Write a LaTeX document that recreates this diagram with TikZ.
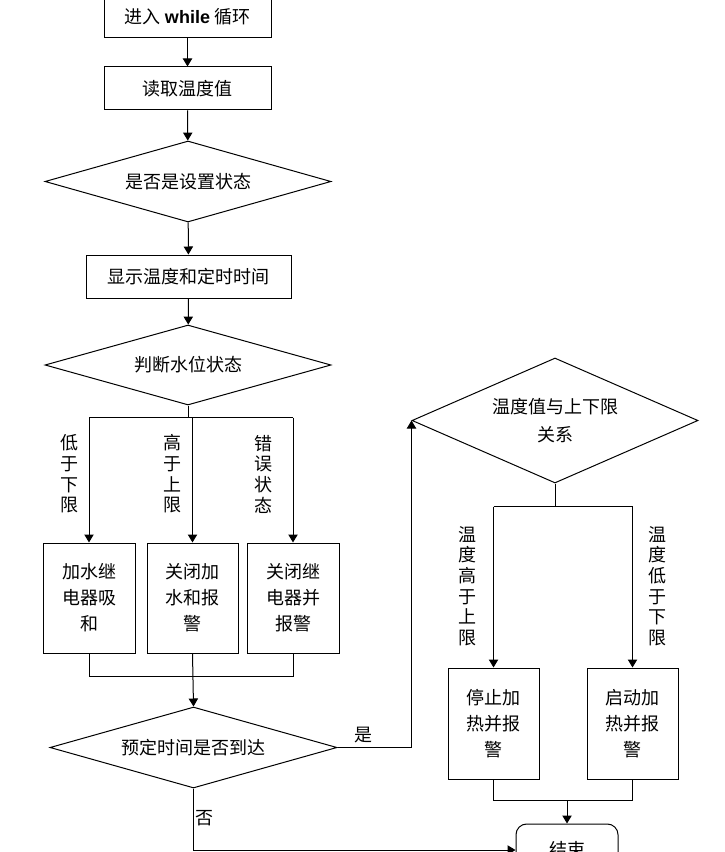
\documentclass[tikz,border=0pt]{standalone}
\usepackage{fontspec}
\setmainfont{Noto Sans CJK SC}
\newfontfamily\latinfont{Liberation Sans}
\usetikzlibrary{shapes.geometric,arrows.meta,calc}
\def\px{0.75pt}

\begin{document}
\begin{tikzpicture}[x=0.75pt,y=-0.75pt,
    every node/.style={font=\fontsize{13.5}{19.5}\selectfont},
    box/.style={draw,line width=0.75pt,inner sep=0pt,align=center},
    decision/.style={draw,line width=0.75pt,diamond,aspect=3,inner sep=0pt,align=center},
    vlabel/.style={inner sep=0pt,align=center,font=\fontsize{13.5}{15.5}\selectfont},
    arr/.style={-{Triangle[width=7pt,length=6pt]}},
    line/.style={line width=0.75pt}]
    \useasboundingbox (0,0) rectangle (724,852);
    \clip (0,0) rectangle (724,852);

    \node[box,minimum width=167*\px,minimum height=43*\px] (enter) at (187.5,16.5) {进入 {\latinfont\bfseries while} 循环};
    \node[box,minimum width=167*\px,minimum height=43*\px] (read) at (187.5,88.5) {读取温度值};
    \node[decision,minimum width=286*\px,minimum height=81*\px] (isset) at (188,181.5) {是否是设置状态};
    \node[box,minimum width=205*\px,minimum height=43*\px] (show) at (188.5,276.5) {显示温度和定时时间};
    \node[decision,minimum width=286*\px,minimum height=80*\px] (water) at (188,365) {判断水位状态};

    \node[box,minimum width=92*\px,minimum height=110*\px] (addw) at (89,598) {加水继\\电器吸\\和};
    \node[box,minimum width=91*\px,minimum height=110*\px] (stopw) at (192.5,598) {关闭加\\水和报\\警};
    \node[box,minimum width=92*\px,minimum height=110*\px] (relayoff) at (293,598) {关闭继\\电器并\\报警};

    \node[vlabel] (lowlbl) at (69,474) {低\\于\\下\\限};
    \node[vlabel] (highlbl) at (172,474) {高\\于\\上\\限};
    \node[vlabel] (errlbl) at (263,474) {错\\误\\状\\态};

    \node[decision,minimum width=287*\px,minimum height=81*\px] (timeup) at (193.5,747.5) {预定时间是否到达};

    \node[decision,minimum width=286*\px,minimum height=125*\px,font=\fontsize{13.5}{21.5}\selectfont] (tempcmp) at (555,420.5) {温度值与上下限\\关系};
    \node[box,minimum width=91*\px,minimum height=111*\px] (heatoff) at (493.5,723.5) {停止加\\热并报\\警};
    \node[box,minimum width=91*\px,minimum height=111*\px] (heaton) at (632.5,723.5) {启动加\\热并报\\警};
    \node[vlabel] (hotlbl) at (467,586) {温\\度\\高\\于\\上\\限};
    \node[vlabel] (coldlbl) at (657,586) {温\\度\\低\\于\\下\\限};

    \node[box,rounded corners=8pt,minimum width=102*\px,minimum height=52*\px] (finish) at (567,850) {结束};

    \node (yes) at (363,735) {是};
    \node (no) at (204,818) {否};

    \begin{scope}[line]
        \draw[arr] (enter) -- (read);
        \draw[arr] (read) -- (isset);
        \draw[arr] (isset) -- (show);
        \draw[arr] (show) -- (water);

        \draw (water.south) -- ++(0,12) coordinate (wsplit);
        \draw (wsplit -| addw.north) -- (wsplit -| relayoff.north);
        \draw[arr] (wsplit -| addw.north) -- (addw.north);
        \draw[arr] (wsplit -| stopw.north) -- (stopw.north);
        \draw[arr] (wsplit -| relayoff.north) -- (relayoff.north);

        \draw (addw.south) -- ++(0,23) coordinate (wmerge) -| (relayoff.south);
        \draw[arr] (stopw.south) -- (timeup.north);

        \draw[arr] (timeup.east) -| (tempcmp.west);

        \draw (tempcmp.south) -- ++(0,23) coordinate (tsplit);
        \draw (tsplit -| heatoff.north) -- (tsplit -| heaton.north);
        \draw[arr] (tsplit -| heatoff.north) -- (heatoff.north);
        \draw[arr] (tsplit -| heaton.north) -- (heaton.north);

        \draw (heatoff.south) -- ++(0,21) coordinate (tmerge) -| (heaton.south);
        \draw[arr] (tmerge -| finish.north) -- (finish.north);

        \draw[arr] (timeup.south) |- (finish.west);
    \end{scope}
\end{tikzpicture}
\end{document}
